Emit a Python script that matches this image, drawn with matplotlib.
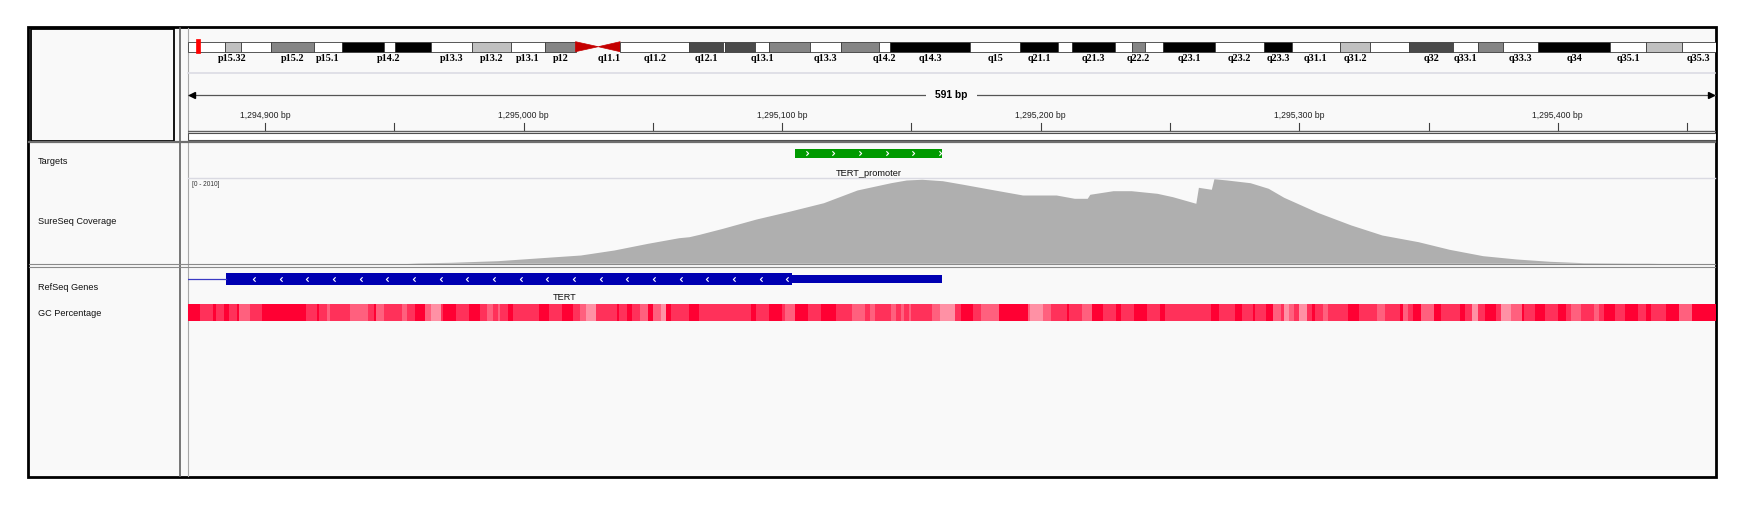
import numpy as np
import matplotlib
matplotlib.use("Agg")
import matplotlib.pyplot as plt
from matplotlib.patches import Rectangle, Polygon
from matplotlib.colors import LinearSegmentedColormap, Normalize
from matplotlib.path import Path

W, H = 1748, 508
BG = "#F9F9F9"
SANS = "Liberation Sans"

# ---- data -------------------------------------------------------------
view_start = 1294870
view_end = 1295461
chr_len = 181.538  # chr5, Mb

band_name = ["p15.33", "p15.32", "p15.31", "p15.2", "p15.1", "p14.3", "p14.2", "p14.1",
             "p13.3", "p13.2", "p13.1", "p12", "p11", "q11.1", "q11.2", "q12.1", "q12.2",
             "q12.3", "q13.1", "q13.2", "q13.3", "q14.1", "q14.2", "q14.3", "q15", "q21.1",
             "q21.2", "q21.3", "q22.1", "q22.2", "q22.3", "q23.1", "q23.2", "q23.3", "q31.1",
             "q31.2", "q31.3", "q32", "q33.1", "q33.2", "q33.3", "q34", "q35.1", "q35.2", "q35.3"]
band_start = [0.0, 4.4, 6.3, 9.9, 15.0, 18.4, 23.3, 24.6, 28.9, 33.8, 38.4, 42.5, 46.1, 48.8,
              51.4, 59.6, 63.6, 63.9, 67.4, 69.1, 74.0, 77.6, 82.1, 83.5, 93.0, 98.9, 103.4,
              105.1, 110.2, 112.2, 113.8, 115.9, 122.1, 127.9, 131.2, 136.9, 140.5, 145.1,
              150.4, 153.3, 156.3, 160.5, 169.0, 173.3, 177.5]
band_end = band_start[1:] + [chr_len]
band_stain = ["gneg", "gpos25", "gneg", "gpos50", "gneg", "gpos100", "gneg", "gpos100",
              "gneg", "gpos25", "gneg", "gpos50", "acen", "acen", "gneg", "gpos75", "gneg",
              "gpos75", "gneg", "gpos50", "gneg", "gpos50", "gneg", "gpos100", "gneg", "gpos100",
              "gneg", "gpos100", "gneg", "gpos50", "gneg", "gpos100", "gneg", "gpos100", "gneg",
              "gpos25", "gneg", "gpos75", "gneg", "gpos50", "gneg", "gpos100", "gneg", "gpos25", "gneg"]
ideo_labels = ["p15.32", "p15.2", "p15.1", "p14.2", "p13.3", "p13.2", "p13.1", "p12", "q11.1",
               "q11.2", "q12.1", "q13.1", "q13.3", "q14.2", "q14.3", "q15", "q21.1", "q21.3",
               "q22.2", "q23.1", "q23.2", "q23.3", "q31.1", "q31.2", "q32", "q33.1", "q33.3",
               "q34", "q35.1", "q35.3"]

major_ticks = [1294900, 1295000, 1295100, 1295200, 1295300, 1295400]
minor_ticks = [1294950, 1295050, 1295150, 1295250, 1295350, 1295450]

target_start = [1295105]
target_end = [1295162]
target_name = ["TERT_promoter"]

gene_name = "TERT"
exon_start = 1294885
cds_end = 1295104
exon_end = 1295162

cov_max = 2010
cov_pos = [1294955, 1294959, 1294972, 1294990, 1295009, 1295022, 1295035, 1295048, 1295060,
           1295064, 1295068, 1295077, 1295090, 1295103, 1295116, 1295129, 1295142, 1295148,
           1295154, 1295162, 1295170, 1295180, 1295193, 1295206, 1295213, 1295218, 1295219,
           1295228, 1295235, 1295245, 1295251, 1295260, 1295261, 1295266, 1295267, 1295272,
           1295281, 1295288, 1295294, 1295307, 1295320, 1295332, 1295346, 1295358, 1295371,
           1295384, 1295397, 1295410, 1295429, 1295435, 1295440]
cov_val = [0, 10, 24, 62, 142, 196, 315, 473, 605, 629, 686, 828, 1048, 1235, 1433, 1734, 1906,
           1970, 1987, 1953, 1868, 1757, 1615, 1615, 1537, 1537, 1632, 1717, 1717, 1655, 1575,
           1419, 1797, 1750, 2000, 1970, 1906, 1774, 1561, 1206, 906, 669, 511, 331, 180, 102,
           47, 14, 5, 5, 0]

# GC percentage windows: offset (bp from view start) where a window begins, and its GC value
gc_start = [0, 5, 10, 11, 14, 16, 19, 20, 24, 29, 46, 50, 51, 54, 55, 63, 70, 72, 73, 76, 83,
            85, 88, 92, 94, 98, 99, 104, 109, 113, 116, 118, 120, 121, 124, 126, 136, 140, 145,
            149, 152, 154, 158, 166, 167, 170, 172, 175, 178, 180, 183, 185, 187, 194, 198, 218,
            220, 225, 230, 231, 235, 240, 245, 251, 257, 262, 264, 266, 272, 274, 276, 277, 279,
            280, 288, 291, 297, 299, 304, 307, 314, 325, 326, 331, 334, 340, 341, 346, 350, 354,
            359, 361, 366, 371, 376, 378, 396, 399, 405, 408, 412, 413, 417, 420, 423, 424, 426,
            428, 430, 433, 435, 436, 439, 441, 449, 453, 460, 463, 469, 470, 472, 474, 477, 482,
            485, 492, 494, 497, 499, 502, 506, 508, 512, 516, 517, 521, 525, 530, 533, 535, 539,
            544, 546, 548, 552, 556, 561, 564, 566, 572, 577, 582]
gc_value = [80, 68, 80, 68, 80, 68, 80, 57, 68, 80, 68, 80, 68, 57, 68, 57, 68, 80, 57, 68, 57,
            68, 80, 57, 45, 68, 80, 68, 80, 68, 57, 68, 57, 68, 80, 68, 80, 68, 80, 68, 57, 45,
            68, 80, 68, 80, 68, 57, 80, 57, 45, 80, 68, 80, 68, 80, 68, 80, 68, 57, 80, 68, 80,
            68, 57, 68, 57, 68, 57, 68, 57, 68, 57, 68, 57, 45, 68, 80, 68, 57, 80, 57, 45, 57,
            68, 80, 68, 57, 80, 68, 80, 68, 80, 68, 80, 68, 80, 68, 80, 68, 80, 68, 80, 57, 68,
            45, 57, 68, 45, 68, 80, 68, 57, 68, 80, 68, 57, 68, 80, 57, 68, 80, 57, 80, 68, 80,
            68, 45, 68, 80, 68, 45, 57, 80, 68, 80, 68, 80, 68, 57, 68, 57, 68, 80, 68, 80, 68,
            80, 68, 80, 57, 80]

track_names = ["Targets", "SureSeq Coverage", "RefSeq Genes", "GC Percentage"]
track_name_y = [161, 222, 287.5, 313.5]

# ---- figure -----------------------------------------------------------
fig = plt.figure(figsize=(W / 100, H / 100), dpi=100)
fig.patch.set_facecolor("white")

bg = fig.add_axes([0, 0, 1, 1])
bg.set_xlim(0, W)
bg.set_ylim(H, 0)
bg.axis("off")

X0, X1 = 187.5, 1715.5


def track(y0, y1, xlim, ylim=None):
    ax = fig.add_axes([X0 / W, 1 - y1 / H, (X1 - X0) / W, (y1 - y0) / H])
    ax.set_xlim(*xlim)
    if ylim is None:
        ax.set_ylim(y1, y0)
    else:
        ax.set_ylim(*ylim)
    ax.axis("off")
    ax.patch.set_alpha(0)
    return ax


# frame and panel lines
bg.add_patch(Rectangle((27.5, 26.5), 1716 - 27.5, 477 - 26.5, fc=BG, ec="black", lw=2.0))
bg.add_patch(Rectangle((31, 28.5), 143, 112, fc=BG, ec="black", lw=1.3))
bg.plot([179.5, 179.5], [27.5, 476], color="#606060", lw=1.2)
bg.plot([X0, X0], [27.5, 476], color="#A8A8A8", lw=0.8)
bg.plot([29, 1715], [142, 142], color="#6E6E6E", lw=1.6)
bg.plot([29, 1715], [264.3, 264.3], color="#8A8A8A", lw=0.8)
bg.plot([29, 1715], [266.8, 266.8], color="#8A8A8A", lw=0.8)
bg.plot([X0, 1715], [73, 73], color="#DCDCE4", lw=1.2)
bg.plot([X0, 1715], [178.3, 178.3], color="#DADAE2", lw=1.0)

for name, y in zip(track_names, track_name_y):
    bg.text(37.5, y, name, fontsize=6.6, family=SANS, va="center", ha="left", color="#111111")

bg.text(192, 184, "[0 - %d]" % cov_max, fontsize=4.7, family=SANS, va="center", ha="left",
        color="#333333")

# ideogram
stain_col = {"gneg": "white", "gpos25": "#C0C0C0", "gpos50": "#858585",
             "gpos75": "#4A4A4A", "gpos100": "black", "acen": "#C40000"}
ax_id = track(34, 66, (0, chr_len))
for s, e, name, st in zip(band_start, band_end, band_name, band_stain):
    if st == "acen":
        if name.startswith("p"):
            pts = [(s, 41.7), (s, 51.7), (e, 46.7)]
        else:
            pts = [(e, 41.7), (e, 51.7), (s, 46.7)]
        ax_id.add_patch(Polygon(pts, closed=True, fc=stain_col[st], ec=stain_col[st], lw=0.5))
    else:
        ax_id.add_patch(Rectangle((s, 41.7), e - s, 10, fc=stain_col[st], ec="#3C3C3C", lw=0.6))
    if name in ideo_labels:
        ax_id.text((s + e) / 2, 58.3, name, fontsize=7.3, family="Liberation Serif",
                   fontweight="bold", ha="center", va="center", clip_on=True)
view_mid = (view_start + view_end) / 2 / 1e6
ax_id.add_patch(Rectangle((view_mid - 0.24, 39.3), 0.48, 14, fc="#FF0000", ec="#FF0000", lw=0.5))

# ruler
vlim = (view_start, view_end)
ax_r = track(74, 141, vlim)
ax_r.plot(vlim, [95, 95], color="#555555", lw=0.9)
ax_r.plot([view_start + 1.6], [95], marker="<", ms=4.5, color="black")
ax_r.plot([view_end - 1.6], [95], marker=">", ms=4.5, color="black")
ax_r.text((view_start + view_end) / 2, 95, "%d bp" % (view_end - view_start), fontsize=7.4,
          family=SANS, fontweight="bold", ha="center", va="center",
          bbox=dict(fc=BG, ec="none", pad=6.5))
for t in major_ticks + minor_ticks:
    ax_r.plot([t, t], [123, 131], color="#404040", lw=0.8)
for t in major_ticks:
    ax_r.text(t, 115, "{:,} bp".format(t), fontsize=6.2, family=SANS, ha="center",
              va="center", color="#222222")
ax_r.plot(vlim, [131, 131], color="#606060", lw=1.0)
ax_r.add_patch(Rectangle((view_start, 132.5), view_end - view_start, 7.5, fc="white",
                         ec="#505050", lw=0.8))

# chevron marker
right_chev = Path([(-0.5, 1), (0.5, 0), (-0.5, -1)], [Path.MOVETO, Path.LINETO, Path.LINETO])
left_chev = Path([(0.5, 1), (-0.5, 0), (0.5, -1)], [Path.MOVETO, Path.LINETO, Path.LINETO])
chev_step = 26.67 / ((X1 - X0) / (view_end - view_start))  # bp between arrows

# targets
ax_t = track(142, 178, vlim)
for s, e, name in zip(target_start, target_end, target_name):
    ax_t.add_patch(Rectangle((s, 149), e - s, 8.7, fc="#009A00", ec="none"))
    xs = np.arange(s + 4.5, e + 0.5, chev_step)
    ax_t.plot(xs, [153.3] * len(xs), ls="none", marker=right_chev, ms=3.2, mew=0.8,
              mec="white", mfc="none")
    ax_t.text((s + e) / 2, 173, name, fontsize=6.7, family=SANS, ha="center", va="center",
              color="#111111")

# coverage
ax_c = track(178.3, 263.3, vlim, (0, cov_max))
ax_c.fill_between(cov_pos, cov_val, 0, color="#AFAFAF", lw=0)

# genes
ax_g = track(267, 300, vlim)
ax_g.plot([view_start, exon_start], [279.3, 279.3], color="#3A3AC4", lw=0.9)
ax_g.add_patch(Rectangle((exon_start, 272.7), cds_end - exon_start, 12.6, fc="#0000B2", ec="none"))
ax_g.add_patch(Rectangle((cds_end, 275.2), exon_end - cds_end, 7.6, fc="#0000B2", ec="none"))
xs = np.arange(exon_start + 10.7, cds_end - 1, chev_step)
ax_g.plot(xs, [279.0] * len(xs), ls="none", marker=left_chev, ms=3.2, mew=0.8,
          mec="white", mfc="none")
ax_g.text((view_start + exon_end) / 2, 298, gene_name, fontsize=6.6, family=SANS,
          ha="center", va="center", color="#111111")

# gc percentage
gc_cmap = LinearSegmentedColormap.from_list("gc", ["#FFA6B5", "#FF0033"])
gc_norm = Normalize(40, 80)
ax_gc = track(303, 321.5, vlim)
gc_ends = gc_start[1:] + [view_end - view_start]
for s, e, v in zip(gc_start, gc_ends, gc_value):
    ax_gc.add_patch(Rectangle((view_start + s, 303.5), e - s, 17.5, fc=gc_cmap(gc_norm(v)),
                              ec="none", antialiased=False))

fig.savefig("out.png", dpi=100, facecolor="white")
